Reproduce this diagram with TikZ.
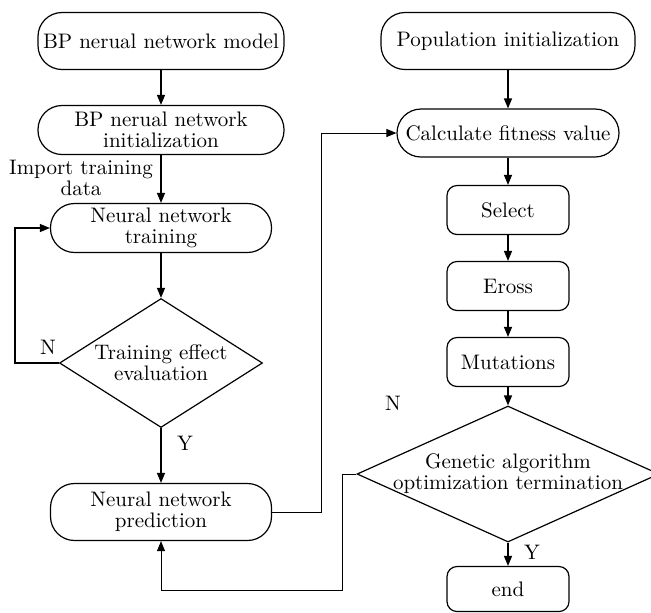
\documentclass[tikz,border=0pt]{standalone}
\usepackage{tikz}
\usetikzlibrary{arrows.meta,shapes.geometric}

\begin{document}
\begin{tikzpicture}[
  x=0.5pt, y=-0.5pt,
  every node/.style={font=\fontsize{10.5}{10.5}\selectfont},
  box/.style={draw, line width=0.6pt, align=center, inner sep=0pt},
  pill/.style={box, rounded corners=12pt},
  tile/.style={box, rounded corners=5pt, minimum width=61pt, minimum height=24.5pt},
  dia/.style={draw, line width=0.6pt, diamond, inner sep=0pt},
  flow/.style={-{Triangle[length=5pt,width=4pt]}, line width=0.65pt},
  back/.style={flow, line width=0.45pt}
]
\useasboundingbox (0,0) rectangle (651,612);
% left column
\node[pill, minimum width=123pt, minimum height=28.5pt] (bpm) at (161,41) {BP nerual network model};
\node[pill, minimum width=123pt, minimum height=24.5pt] (bpi) at (161,130) {BP nerual network\\initialization};
\node[pill, minimum width=110.5pt, minimum height=24.5pt] (nnt) at (161,228) {Neural network\\training};
\node[dia, minimum width=101.5pt, minimum height=64.5pt,
  label={[align=center]center:Training effect\\evaluation}] (tee) at (161,363) {};
\node[pill, minimum width=110.5pt, minimum height=28.5pt] (nnp) at (161,512) {Neural network\\prediction};
\node[align=center] (imp) at (81,178) {Import training\\data};
\node (n1) at (48,347) {N};
\node (y1) at (185,443) {Y};
% right column
\node[pill, minimum width=127pt, minimum height=28.5pt] (pop) at (508,41) {Population initialization};
\node[pill, minimum width=111pt, minimum height=24pt] (fit) at (508,133) {Calculate fitness value};
\node[tile] (sel) at (508,210) {Select};
\node[tile] (cro) at (508,286) {Eross};
\node[tile] (mut) at (508,362) {Mutations};
\node[dia, minimum width=151pt, minimum height=68pt,
  label={[align=center]center:Genetic algorithm\\optimization termination}] (gat) at (508,474) {};
\node[tile, minimum height=22.5pt] (stop) at (508,589) {end};
\node (n2) at (393,403) {N};
\node (y2) at (532,552) {Y};

\draw[flow] (bpm) -- (bpi);
\draw[flow] (bpi) -- (nnt);
\draw[flow] (nnt) -- (tee);
\draw[flow] (tee) -- (nnp);
\draw[flow] (tee.west) -- ++(-44,0) |- (nnt.west);
\draw[back] (nnp.east) -- ++(49,0) |- (fit.west);
\draw[flow] (pop) -- (fit);
\draw[flow] (fit) -- (sel);
\draw[flow] (sel) -- (cro);
\draw[flow] (cro) -- (mut);
\draw[flow] (mut) -- (gat);
\draw[flow] (gat) -- (stop);
\draw[back] (gat.west) -- ++(-14,0) -- ++(0,116) -| (nnp.south);
\end{tikzpicture}
\end{document}
